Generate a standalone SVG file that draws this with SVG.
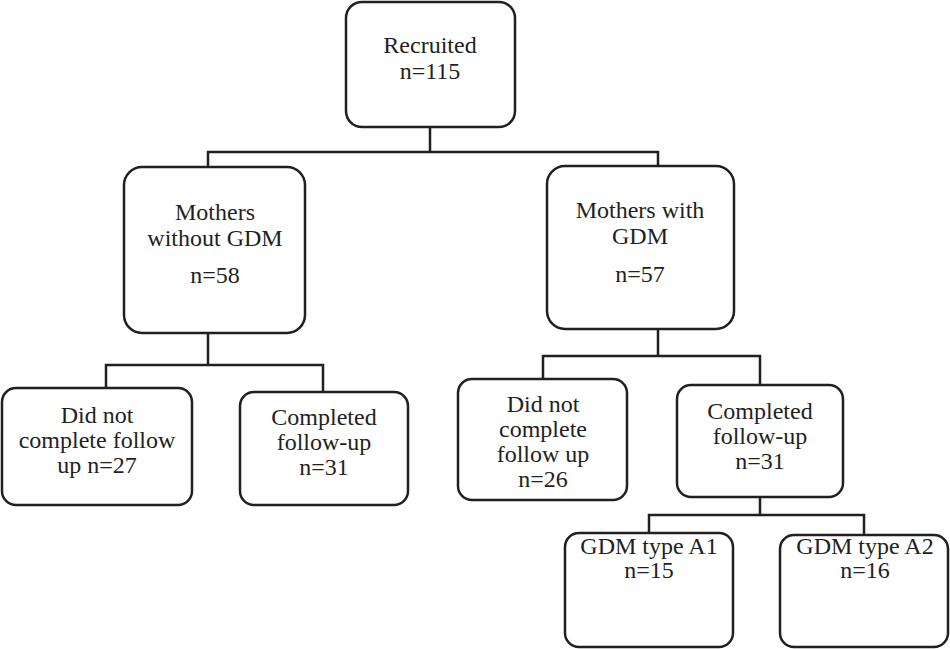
<svg xmlns="http://www.w3.org/2000/svg" width="950" height="649" viewBox="0 0 950 649">
<style>
.box{fill:#fff;stroke:#231f20;stroke-width:2.5}
.ln{fill:none;stroke:#231f20;stroke-width:2.5}
.t{font-family:'Liberation Serif','Times New Roman',Times,'DejaVu Serif',serif;font-size:24px;fill:#231f20;text-anchor:middle}
</style>
<rect width="950" height="649" fill="#fff"/>
<g id="connectors">
<path class="ln" d="M430,127 V152 M208,167 V152 H658 V167"/>
<path class="ln" d="M208,333 V365 M106,388 V365 H323 V392"/>
<path class="ln" d="M658,329 V356 M543,379 V356 H760 V385"/>
<path class="ln" d="M760,497 V515 M649,533 V515 H864 V535"/>
</g>
<g id="recruited">
<rect class="box" x="346" y="2" width="169" height="125" rx="16"/>
<text class="t" x="430" y="53">Recruited</text>
<text class="t" x="430" y="79">n=115</text>
</g>
<g id="without">
<rect class="box" x="124" y="167" width="181" height="166" rx="18"/>
<text class="t" x="215" y="220">Mothers</text>
<text class="t" x="215" y="246">without GDM</text>
<text class="t" x="215" y="283">n=58</text>
</g>
<g id="with">
<rect class="box" x="547" y="166" width="187" height="163" rx="18"/>
<text class="t" x="640" y="218">Mothers with</text>
<text class="t" x="640" y="244">GDM</text>
<text class="t" x="640" y="282">n=57</text>
</g>
<g id="notcomplete1">
<rect class="box" x="2" y="388" width="190" height="117" rx="14"/>
<text class="t" x="97" y="423">Did not</text>
<text class="t" x="97" y="448">complete follow</text>
<text class="t" x="97" y="473">up n=27</text>
</g>
<g id="completed1">
<rect class="box" x="240" y="392" width="168" height="113" rx="14"/>
<text class="t" x="324" y="425">Completed</text>
<text class="t" x="324" y="450">follow-up</text>
<text class="t" x="324" y="475">n=31</text>
</g>
<g id="notcomplete2">
<rect class="box" x="458" y="379" width="169" height="121" rx="14"/>
<text class="t" x="543" y="412">Did not</text>
<text class="t" x="543" y="437">complete</text>
<text class="t" x="543" y="462">follow up</text>
<text class="t" x="543" y="487">n=26</text>
</g>
<g id="completed2">
<rect class="box" x="677" y="385" width="166" height="112" rx="14"/>
<text class="t" x="760" y="419">Completed</text>
<text class="t" x="760" y="444">follow-up</text>
<text class="t" x="760" y="469">n=31</text>
</g>
<g id="a1">
<rect class="box" x="565" y="533" width="168" height="114" rx="14"/>
<text class="t" x="649" y="554">GDM type A1</text>
<text class="t" x="649" y="578">n=15</text>
</g>
<g id="a2">
<rect class="box" x="780" y="535" width="168" height="112" rx="14"/>
<text class="t" x="865" y="554">GDM type A2</text>
<text class="t" x="865" y="578">n=16</text>
</g>
</svg>
